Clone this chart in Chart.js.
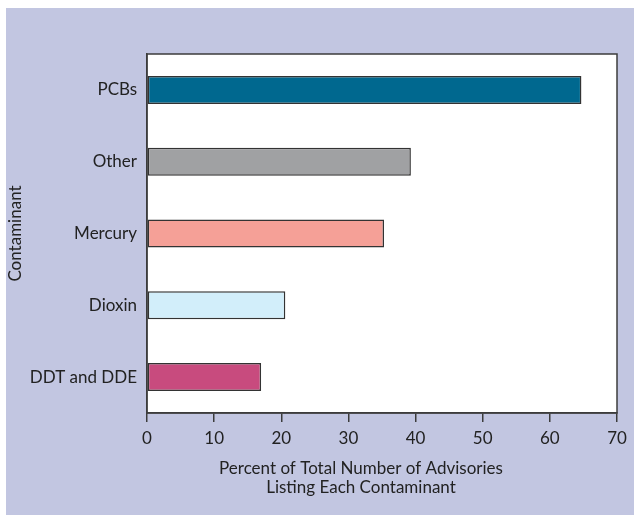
<!DOCTYPE html>
<html>
<head>
<meta charset="utf-8">
<script src="https://cdn.jsdelivr.net/npm/chart.js@4/dist/chart.umd.min.js"></script>
<style>
  html, body { margin: 0; padding: 0; background: #fff; }
  #wrap { width: 634px; height: 520px; }
</style>
</head>
<body>
<div id="wrap"><canvas id="chart" width="634" height="520"></canvas></div>
<script>
const contaminants = ["PCBs", "Other", "Mercury", "Dioxin", "DDT and DDE"];
const percents = [64.7, 39.3, 35.3, 20.6, 17.0];
const barColors = ["#00688f", "#a0a1a3", "#f5a097", "#d2eefa", "#c84b7e"];
const xTicks = [0, 10, 20, 30, 40, 50, 60, 70];
const xTitle = ["Percent of Total Number of Advisories", "Listing Each Contaminant"];
const yTitle = "Contaminant";

const FONT = "Lato, 'Open Sans', sans-serif";
const LAVENDER = "#c2c6e1";
const AXIS = "#3c3c3c";

// lavender panel, white plot box, and the two-line x title
const framePlugin = {
  id: "frame",
  beforeDraw(c) {
    const ctx = c.ctx, a = c.chartArea;
    ctx.save();
    ctx.fillStyle = "#fff";
    ctx.fillRect(0, 0, c.width, c.height);
    ctx.fillStyle = LAVENDER;
    ctx.fillRect(6, 8, c.width - 6, 507);
    ctx.fillStyle = "#fff";
    ctx.fillRect(a.left, a.top, a.right - a.left, a.bottom - a.top);
    ctx.restore();
  },
  afterDraw(c) {
    const ctx = c.ctx, a = c.chartArea;
    ctx.save();
    ctx.strokeStyle = AXIS;
    ctx.lineWidth = 1.5;
    ctx.strokeRect(a.left, a.top, a.right - a.left, a.bottom - a.top);
    ctx.fillStyle = "#222";
    ctx.font = "17px " + FONT;
    ctx.textAlign = "center";
    ctx.textBaseline = "middle";
    ctx.fillText(xTitle[0], 361, 469);
    ctx.fillText(xTitle[1], 361, 488);
    ctx.restore();
  }
};

new Chart(document.getElementById("chart"), {
  type: "bar",
  data: {
    labels: contaminants,
    datasets: [{
      data: percents,
      backgroundColor: barColors,
      borderColor: "#333",
      borderWidth: 1.5,
      borderSkipped: false,
      categoryPercentage: 1,
      barPercentage: 0.39
    }]
  },
  options: {
    indexAxis: "y",
    responsive: false,
    animation: false,
    events: [],
    layout: { padding: { top: 54, right: 17, bottom: 0, left: 0 } },
    plugins: { legend: { display: false }, tooltip: { enabled: false } },
    scales: {
      x: {
        min: 0,
        max: 70,
        afterBuildTicks(s) { s.ticks = xTicks.map(v => ({ value: v })); },
        afterFit(s) { s.height = 107; },
        grid: { drawOnChartArea: false, drawTicks: true, tickLength: 9, color: AXIS, lineWidth: 1.5 },
        border: { display: true, color: AXIS, width: 1.5 },
        ticks: { color: "#222", padding: 6, font: { family: FONT, size: 17 } }
      },
      y: {
        afterFit(s) { s.width = 147; },
        grid: { display: false, drawTicks: false },
        border: { display: true, color: AXIS, width: 1.5 },
        ticks: { color: "#222", padding: 10, font: { family: FONT, size: 17 } },
        title: {
          display: true,
          text: yTitle,
          color: "#222",
          padding: { top: 5, bottom: 0 },
          font: { family: FONT, size: 17 }
        }
      }
    }
  },
  plugins: [framePlugin]
});
</script>
</body>
</html>
